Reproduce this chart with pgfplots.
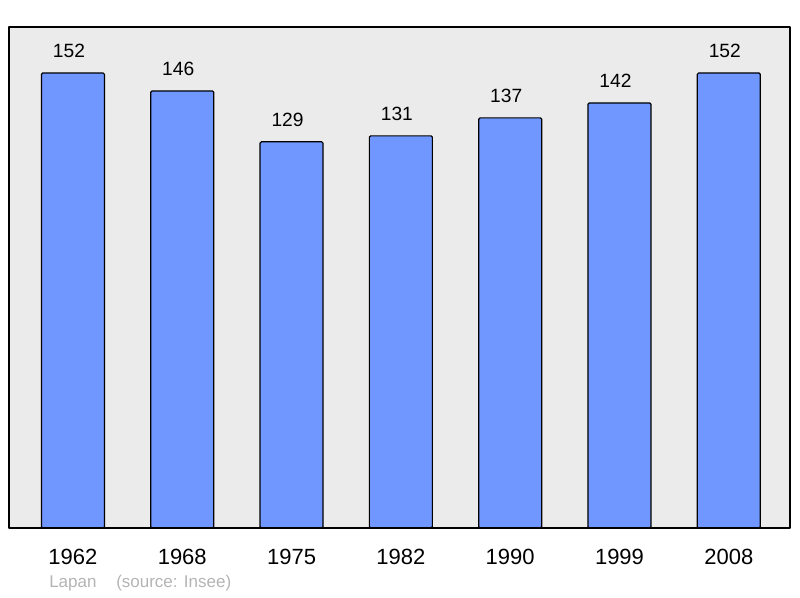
\documentclass[border=0pt]{standalone}
\usepackage{pgfplots}
\pgfplotsset{compat=1.18}
\usepackage{fontspec}
\setmainfont{Liberation Sans}
\definecolor{barblue}{RGB}{112,150,255}
\definecolor{bggray}{RGB}{235,235,235}
\definecolor{notegray}{RGB}{180,180,180}
\begin{document}
\begin{tikzpicture}
  \path[use as bounding box] (0,0) rectangle (600pt,448.5pt);
  \begin{axis}[
      at={(6.75pt,52.5pt)}, anchor=south west,
      scale only axis,
      width=585.75pt, height=375.75pt,
      ybar, bar width=47.25pt,
      xmin=-0.585, xmax=6.56,
      ymin=0, ymax=167.37,
      xtick={0,...,6},
      xticklabels={1962,1968,1975,1982,1990,1999,2008},
      ytick=\empty,
      major tick length=0pt,
      axis on top,
      axis background/.style={fill=bggray, rounded corners=2pt},
      axis line style={line width=1.6pt, line join=round},
      xticklabel style={anchor=base, inner sep=0pt, yshift=-27.75pt,
        font=\fontsize{16.5pt}{18pt}\selectfont},
      nodes near coords,
      /pgf/number format/assume math mode=true,
      every node near coord/.append style={anchor=base, inner sep=0pt,
        xshift=-3pt, yshift=11.25pt, text=black,
        font=\fontsize{14.4pt}{16pt}\selectfont},
      clip=false,
    ]
    \addplot[draw=black, line width=0.9pt, fill=barblue, rounded corners=1pt] coordinates {
      (0,152) (1,146) (2,129) (3,131) (4,137) (5,142) (6,152)};
    \node[anchor=base west, inner sep=0pt, text=notegray,
      font=\fontsize{12.75pt}{14pt}\selectfont]
      at ([xshift=30pt,yshift=-45pt]rel axis cs:0,0) {Lapan};
    \node[anchor=base west, inner sep=0pt, text=notegray,
      font=\fontsize{12.75pt}{14pt}\selectfont]
      at ([xshift=80.25pt,yshift=-45pt]rel axis cs:0,0) {(source: Insee)};
  \end{axis}
\end{tikzpicture}
\end{document}
